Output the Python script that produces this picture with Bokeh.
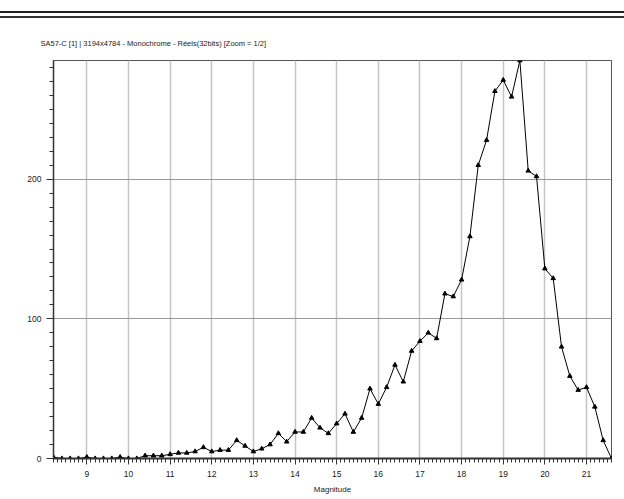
from bokeh.plotting import figure
from bokeh.models import (ColumnDataSource, FixedTicker, Range1d, Div, Title)
from bokeh.layouts import column
from bokeh.embed import file_html
from bokeh.resources import INLINE

# ---- data ----
magnitude = [8.2, 8.4, 8.6, 8.8, 9.0, 9.2, 9.4, 9.6, 9.8, 10.0,
             10.2, 10.4, 10.6, 10.8, 11.0, 11.2, 11.4, 11.6, 11.8, 12.0,
             12.2, 12.4, 12.6, 12.8, 13.0, 13.2, 13.4, 13.6, 13.8, 14.0,
             14.2, 14.4, 14.6, 14.8, 15.0, 15.2, 15.4, 15.6, 15.8, 16.0,
             16.2, 16.4, 16.6, 16.8, 17.0, 17.2, 17.4, 17.6, 17.8, 18.0,
             18.2, 18.4, 18.6, 18.8, 19.0, 19.2, 19.4, 19.6, 19.8, 20.0,
             20.2, 20.4, 20.6, 20.8, 21.0, 21.2, 21.4, 21.6]
counts = [1, 0, 0, 0, 1, 0, 0, 0, 1, 0,
          0, 2, 2, 2, 3, 4, 4, 5, 8, 5,
          6, 6, 13, 9, 5, 7, 10, 18, 12, 19,
          19, 29, 22, 18, 25, 32, 19, 29, 50, 39,
          51, 67, 55, 77, 84, 90, 86, 118, 116, 128,
          159, 210, 228, 263, 271, 259, 285, 206, 202, 136,
          129, 80, 59, 49, 51, 37, 13, 0]
x_ticks = [9, 10, 11, 12, 13, 14, 15, 16, 17, 18, 19, 20, 21]
y_ticks = [0, 100, 200]
title_text = "SA57-C  [1]  | 3194x4784 - Monochrome - Réels(32bits)   [Zoom = 1/2]"
x_label = "Magnitude"

FONT = "Liberation Sans"
TXT = "#222222"

src = ColumnDataSource(dict(x=magnitude, y=counts))

p = figure(width=624, height=479, output_backend="svg", toolbar_location=None,
           x_range=Range1d(8.2, 21.6), y_range=Range1d(0, 285),
           min_border_left=53, min_border_right=13, min_border_top=40,
           min_border_bottom=41)
p.title = Title(text=title_text, text_font=FONT, text_font_size="7.5px",
                text_font_style="normal", text_color=TXT, offset=-13,
                standoff=25)
p.background_fill_color = "white"
p.border_fill_color = "white"
p.outline_line_color = "#555555"
p.outline_line_width = 1

# axes
xa = p.xaxis[0]
xa.ticker = FixedTicker(ticks=x_ticks,
                        minor_ticks=[8.2 + 0.1 * i for i in range(135)])
xa.axis_label = x_label
xa.axis_label_text_font = FONT
xa.axis_label_text_font_size = "8px"
xa.axis_label_text_font_style = "normal"
xa.axis_label_text_color = TXT
xa.axis_label_standoff = 5
xa.major_label_text_font = FONT
xa.major_label_text_font_size = "8.5px"
xa.major_label_text_color = TXT
xa.major_label_standoff = 6
xa.axis_line_color = "#333333"
xa.axis_line_width = 2
xa.major_tick_in = 0
xa.major_tick_out = 6
xa.minor_tick_in = 0
xa.minor_tick_out = 4
xa.major_tick_line_color = "#333333"
xa.minor_tick_line_color = "#333333"

ya = p.yaxis[0]
ya.ticker = FixedTicker(ticks=y_ticks, minor_ticks=list(range(0, 290, 10)))
ya.major_label_text_font = FONT
ya.major_label_text_font_size = "8.5px"
ya.major_label_text_color = TXT
ya.major_label_standoff = 5
ya.axis_line_color = "#333333"
ya.axis_line_width = 1.5
ya.major_tick_in = 0
ya.major_tick_out = 7
ya.minor_tick_in = 0
ya.minor_tick_out = 4
ya.major_tick_line_color = "#333333"
ya.minor_tick_line_color = "#333333"

# grids
p.xgrid.grid_line_color = "#c4c4c4"
p.xgrid.grid_line_width = 1.5
p.ygrid.grid_line_color = "#9a9a9a"
p.ygrid.grid_line_width = 1

p.line("x", "y", source=src, line_color="black", line_width=1)
p.scatter("x", "y", source=src, marker="triangle", size=4.5,
          fill_color="black", line_color="black")

top = Div(text='<div style="width:624px;height:20px;">'
               '<div style="height:11px;"></div>'
               '<div style="height:2px;background:#222;"></div>'
               '<div style="height:3px;"></div>'
               '<div style="height:2px;background:#333;"></div>'
               '</div>',
          width=624, height=20, margin=0)

layout = column(top, p, spacing=0)
open("out.html", "w").write(file_html(layout, INLINE))
